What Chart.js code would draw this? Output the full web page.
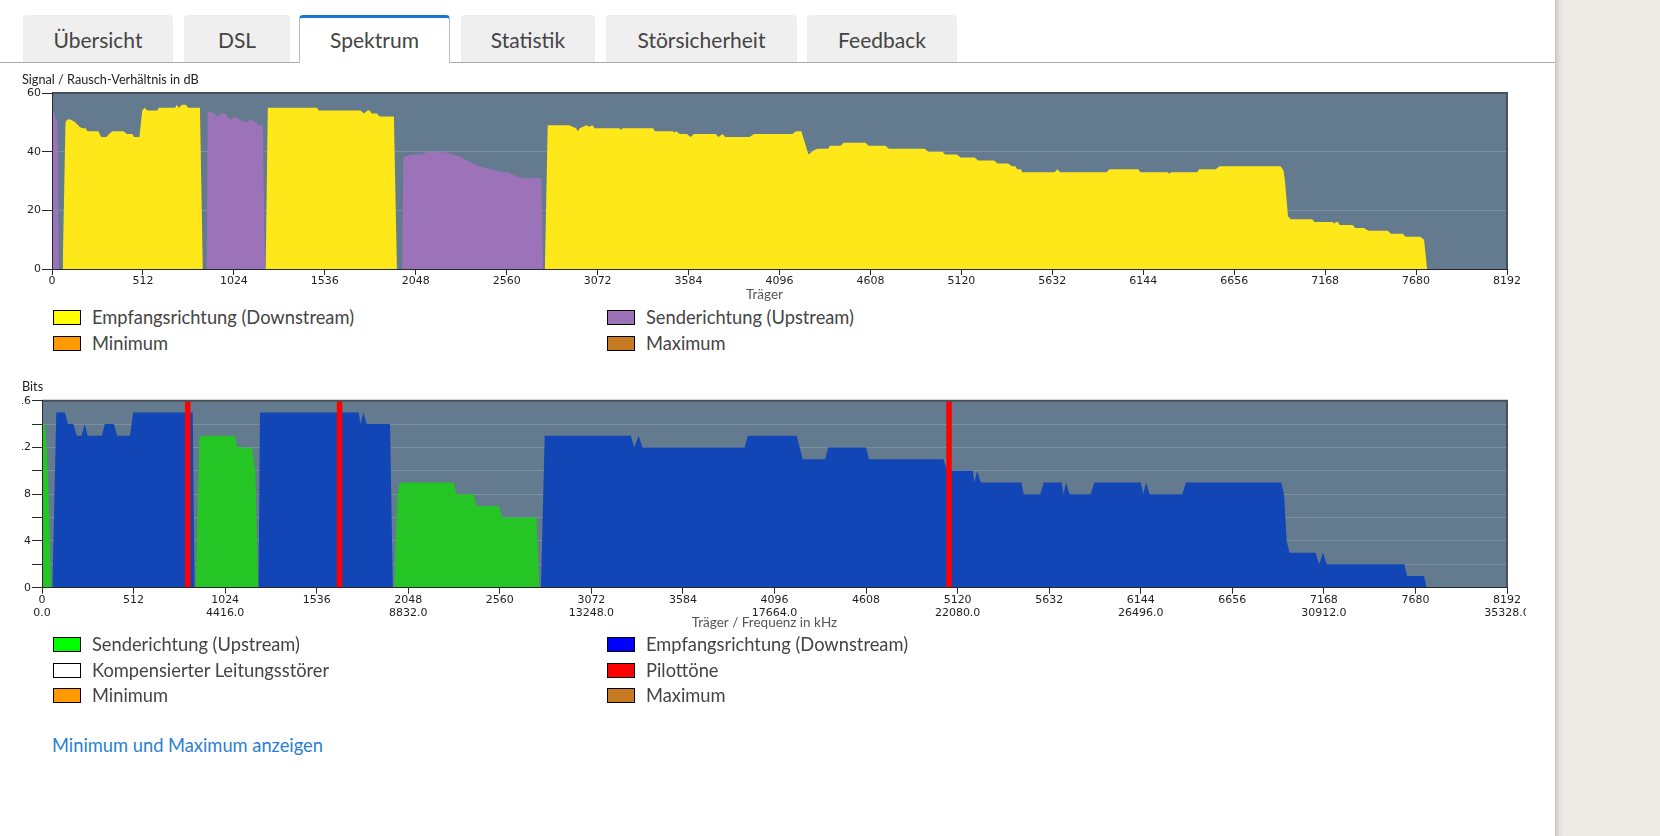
<!DOCTYPE html>
<html lang="de">
<head>
<meta charset="utf-8">
<title>Spektrum</title>
<script src="https://cdn.jsdelivr.net/npm/chart.js@4.4.1/dist/chart.umd.min.js"></script>
<style>
  html, body { margin: 0; padding: 0; }
  body { width: 1660px; height: 836px; position: relative; overflow: hidden; background: #fff;
         font-family: Lato, "Open Sans", sans-serif; color: #444; }
  .side { position: absolute; left: 1555px; top: 0; width: 105px; height: 836px;
          background: linear-gradient(to right, #c6c4be 0px, #e2dfda 4px, #eeebe6 8px); }
  .tabline { position: absolute; left: 0; top: 62px; width: 1555px; height: 1px; background: #aaa; }
  .tab { position: absolute; top: 15px; height: 47px; background: #efefef; border-radius: 4px 4px 0 0;
         font-size: 21px; line-height: 49px; text-align: center; color: #444; box-sizing: border-box; }
  .tab.active { background: #fff; height: 48px; border: 1px solid #bbb; border-top: 3px solid #1976d2;
                border-bottom: none; line-height: 44px; z-index: 2; }
  canvas { position: absolute; }
  .li { position: absolute; height: 26px; line-height: 26px; font-size: 18.3px; color: #444; white-space: nowrap; }
  .li span { position: absolute; left: 0; top: 6px; width: 28px; height: 15px; border: 1px solid #000; box-sizing: border-box; }
  .li b { position: absolute; left: 39px; top: 0; font-weight: normal; }
  .link { position: absolute; left: 52px; top: 732px; height: 26px; line-height: 26px; font-size: 18.3px; color: #2a7fd3; }
</style>
</head>
<body>
<div class="side"></div>
<div class="tabline"></div>
<div class="tab" style="left:23px;width:150px">Übersicht</div>
<div class="tab" style="left:184px;width:106px">DSL</div>
<div class="tab active" style="left:299px;width:151px">Spektrum</div>
<div class="tab" style="left:461px;width:134px">Statistik</div>
<div class="tab" style="left:606px;width:191px">Störsicherheit</div>
<div class="tab" style="left:807px;width:150px">Feedback</div>

<canvas id="snr" width="1504" height="234" style="left:22px;top:70px"></canvas>

<div class="li" style="left:53px;top:304px"><span style="background:#ffff00"></span><b>Empfangsrichtung (Downstream)</b></div>
<div class="li" style="left:607px;top:304px"><span style="background:#9b72b8"></span><b>Senderichtung (Upstream)</b></div>
<div class="li" style="left:53px;top:330px"><span style="background:#ff9900"></span><b>Minimum</b></div>
<div class="li" style="left:607px;top:330px"><span style="background:#c87a22"></span><b>Maximum</b></div>

<canvas id="bits" width="1504" height="256" style="left:22px;top:377px"></canvas>

<div class="li" style="left:53px;top:631px"><span style="background:#00ff00"></span><b>Senderichtung (Upstream)</b></div>
<div class="li" style="left:607px;top:631px"><span style="background:#0000ff"></span><b>Empfangsrichtung (Downstream)</b></div>
<div class="li" style="left:53px;top:657px"><span style="background:#ffffff"></span><b>Kompensierter Leitungsstörer</b></div>
<div class="li" style="left:607px;top:657px"><span style="background:#ff0000"></span><b>Pilottöne</b></div>
<div class="li" style="left:53px;top:682px"><span style="background:#ff9900"></span><b>Minimum</b></div>
<div class="li" style="left:607px;top:682px"><span style="background:#c87a22"></span><b>Maximum</b></div>

<div class="link">Minimum und Maximum anzeigen</div>

<script>
// Signal/Rausch-Verhältnis, Senderichtung (violett)
const snrUpCarrier = [0, 4, 30, 38,
  870, 877, 895, 914, 934, 954, 974, 1004, 1034, 1054, 1094, 1114, 1145, 1165, 1187, 1199,
  1972, 1978, 2000, 2028, 2088, 2108, 2199, 2210, 2220, 2248, 2290, 2308, 2339, 2369, 2409,
  2440, 2469, 2539, 2570, 2600, 2620, 2650, 2755, 2765];
const snrUpDb = [55, 55, 50, 0,
  0, 53.5, 53.5, 53, 52, 53, 53, 51, 52, 51, 50, 51, 50, 49, 49, 0,
  0, 38, 38.5, 39, 39, 40, 40, 39.5, 40, 39, 38.5, 38, 37, 36, 35,
  34.5, 34, 33, 33, 32, 31.5, 31, 31, 0];

// Signal/Rausch-Verhältnis, Empfangsrichtung (gelb)
const snrDownCarrier = [60, 76, 86, 105, 130, 155, 170, 190, 200, 261, 277, 307, 321, 341, 402,
  422, 452, 462, 492, 508, 522, 536, 592, 602, 693, 703, 713, 733, 753, 767, 833, 849,
  1203, 1215, 1492, 1500, 1737, 1757, 1777, 1790, 1799, 1829, 1845, 1925, 1942,
  2775, 2791, 2911, 2931, 2951, 2961, 2971, 2990, 3008, 3025, 3042, 3056, 3193, 3203, 3213,
  3384, 3394, 3495, 3505, 3515, 3535, 3575, 3595, 3615, 3736, 3752, 3776, 3790, 3927, 3953,
  4169, 4189, 4219, 4259, 4290, 4310, 4370, 4380, 4440, 4457, 4581, 4597, 4692, 4712, 4913,
  4934, 5014, 5028, 5095, 5115, 5195, 5213, 5304, 5324, 5384, 5404, 5424, 5434, 5454, 5464,
  5645, 5661, 5675, 5938, 5954, 6115, 6129, 6281, 6291, 6302, 6448, 6459, 6552, 6573, 6917,
  6934, 6942, 6959, 6975, 7094, 7109, 7209, 7219, 7229, 7240, 7250, 7323, 7338, 7386, 7413,
  7521, 7538, 7605, 7621, 7704, 7725, 7742];
const snrDownDb = [0, 50, 51, 51, 50, 48.5, 48, 48, 47, 47, 45, 45, 46, 47, 47,
  46, 46, 45, 45, 54, 55, 54, 54, 55, 55, 56, 55, 56, 56, 55, 55, 0,
  0, 55, 55, 54, 54, 53, 54, 54, 53, 53, 52, 52, 0,
  0, 49, 49, 48.5, 48, 47, 48, 48.5, 49, 48.5, 49, 48, 48, 47.5, 48,
  48, 47, 47, 46.5, 47, 46, 46, 45, 46, 46, 45, 46, 45, 45, 46,
  46, 47, 47, 39, 40.5, 41, 41, 42, 42, 43, 43, 42, 42, 41, 41,
  40, 40, 39, 39, 38, 38, 37, 37, 36, 36, 35, 35, 34, 34, 33,
  33, 34, 33, 33, 34, 34, 33, 33, 32.5, 33, 33, 34, 34, 35, 35,
  33.5, 30, 18, 17, 17, 16, 16, 15.5, 16, 16, 15, 15, 14, 14, 13,
  13, 12, 12, 11, 11, 10, 0];

// Bits pro Träger, Senderichtung (grün)
const bitsUpCarrier = [0, 16, 30, 52,
  860, 881, 1078, 1094, 1175, 1193, 1209,
  1970, 1988, 2002, 2303, 2317, 2414, 2430, 2554, 2574, 2765, 2781];
const bitsUp = [14, 14, 11, 0,
  0, 13, 13, 12, 12, 10, 0,
  0, 8, 9, 9, 8, 8, 7, 7, 6, 6, 0];

// Bits pro Träger, Empfangsrichtung (blau)
const bitsDownCarrier = [58, 80, 128, 145, 175, 195, 221, 239, 255, 335, 351, 402, 420, 492, 510, 843, 853,
  1211, 1219, 1771, 1781, 1797, 1815, 1946, 1962,
  2790, 2811, 3292, 3312, 3336, 3358, 3929, 3947, 4220, 4254, 4380, 4396, 4608, 4624, 5041,
  5061, 5205, 5214, 5229, 5249, 5476, 5490, 5582, 5602, 5702, 5712, 5726, 5746, 5864, 5885,
  6144, 6158, 6173, 6194, 6376, 6397, 6929, 6945, 6960, 6976, 7121, 7142, 7163, 7184, 7618,
  7633, 7728, 7743];
const bitsDown = [0, 15, 15, 14, 14, 13, 13, 14, 13, 13, 14, 14, 13, 13, 15, 15, 0,
  0, 15, 15, 14, 15, 14, 14, 0,
  0, 13, 13, 12, 13, 12, 12, 13, 13, 11, 11, 12, 12, 11, 11,
  10, 10, 9, 10, 9, 9, 8, 8, 9, 9, 8, 9, 8, 8, 9,
  9, 8, 9, 8, 8, 9, 9, 8, 4, 3, 3, 2, 3, 2, 2,
  1, 1, 0];

// Pilottöne (rot)
const pilotCarrier = [815, 1664, 5072];

const freqTicks = ['0.0', '', '4416.0', '', '8832.0', '', '13248.0', '', '17664.0', '',
  '22080.0', '', '26496.0', '', '30912.0', '', '35328.0'];
const snrMax = 60;
const bitsMax = 16;

Chart.defaults.font.family = "'DejaVu Sans', Verdana, sans-serif";
Chart.defaults.font.size = 11;
Chart.defaults.color = '#1e1e1e';
Chart.defaults.animation = false;

const PLOT_BG = '#637a8f';
const GRID = '#7b8fa2';
const AXIS = '#25292e';

const toPoints = (xs, ys) => xs.map((x, i) => ({ x: x, y: ys[i] }));

const plotFrame = {
  id: 'plotFrame',
  beforeDraw(chart) {
    const { ctx, chartArea: a } = chart;
    ctx.save();
    ctx.fillStyle = PLOT_BG;
    ctx.fillRect(a.left, a.top, a.right - a.left, a.bottom - a.top);
    ctx.restore();
  },
  afterDatasetsDraw(chart) {
    const { ctx, chartArea: a } = chart;
    ctx.save();
    ctx.strokeStyle = '#4a5057';
    ctx.lineWidth = 2;
    ctx.beginPath();
    ctx.moveTo(a.left, a.top);
    ctx.lineTo(a.right, a.top);
    ctx.lineTo(a.right, a.bottom);
    ctx.stroke();
    ctx.restore();
  }
};

const xAxis = (labelFn) => ({
  type: 'linear',
  min: 0,
  max: 8192,
  grid: { drawOnChartArea: false, drawTicks: true, tickLength: 6, tickColor: AXIS },
  border: { color: AXIS, width: 1, z: 1 },
  ticks: { stepSize: 512, maxTicksLimit: 20, autoSkip: false, maxRotation: 0, padding: 0, callback: labelFn },
  afterFit: (s) => { s.paddingLeft = 0; s.paddingRight = 0; }
});

const yAxis = (max, step, labelFn, width) => ({
  min: 0,
  max: max,
  grid: {
    color: (c) => (c.tick.value === 0 || c.tick.value === max) ? 'rgba(0,0,0,0)' : GRID,
    tickColor: AXIS,
    tickLength: 10
  },
  border: { color: AXIS, width: 1, z: 1 },
  ticks: { stepSize: step, padding: 1, callback: labelFn },
  afterFit: (s) => { s.width = width; }
});

const area = (label, xs, ys, color, order) => ({
  label: label,
  data: toPoints(xs, ys),
  backgroundColor: color,
  borderColor: 'rgba(0,0,0,0)',
  borderWidth: 0,
  pointRadius: 0,
  fill: 'origin',
  order: order
});

new Chart(document.getElementById('snr'), {
  type: 'line',
  data: {
    datasets: [
      area('Empfangsrichtung (Downstream)', snrDownCarrier, snrDownDb, '#ffe81a', 1),
      area('Senderichtung (Upstream)', snrUpCarrier, snrUpDb, '#9c73b9', 2)
    ]
  },
  options: {
    responsive: false,
    layout: { padding: { left: 0, right: 19, top: 0, bottom: 0 } },
    scales: {
      x: xAxis((v) => String(v)),
      y: yAxis(snrMax, 20, (v) => String(v), 30)
    },
    plugins: {
      legend: { display: false },
      tooltip: { enabled: false },
      title: {
        display: true, text: 'Signal / Rausch-Verhältnis in dB', align: 'start',
        font: { family: 'Lato', size: 12.7, weight: 'normal' }, color: '#222',
        padding: { top: 2.4, bottom: 5.36 }
      },
      subtitle: {
        display: true, position: 'bottom', text: 'Träger',
        font: { family: 'Lato', size: 13.5 }, color: '#555',
        padding: { top: -1.3, bottom: 0.9 }
      }
    }
  },
  plugins: [plotFrame]
});

new Chart(document.getElementById('bits'), {
  type: 'line',
  data: {
    datasets: [
      {
        label: 'Pilottöne',
        data: pilotCarrier.flatMap((c) => [{ x: c, y: 0 }, { x: c, y: bitsMax }, { x: c, y: null }]),
        borderColor: '#ff0000',
        borderWidth: 5.5,
        pointRadius: 0,
        fill: false,
        spanGaps: false,
        order: 0
      },
      area('Empfangsrichtung (Downstream)', bitsDownCarrier, bitsDown, '#1245b5', 1),
      area('Senderichtung (Upstream)', bitsUpCarrier, bitsUp, '#26c526', 2)
    ]
  },
  options: {
    responsive: false,
    layout: { padding: { left: 0, right: 19, top: 0, bottom: 0 } },
    scales: {
      x: xAxis((v, i) => [String(v), freqTicks[i] || '']),
      y: yAxis(bitsMax, 2, (v) => (v % 4 === 0 ? String(v) : ''), 20)
    },
    plugins: {
      legend: { display: false },
      tooltip: { enabled: false },
      title: {
        display: true, text: 'Bits', align: 'start',
        font: { family: 'Lato', size: 12.7, weight: 'normal' }, color: '#222',
        padding: { top: 2.4, bottom: 6.06 }
      },
      subtitle: {
        display: true, position: 'bottom', text: 'Träger / Frequenz in kHz',
        font: { family: 'Lato', size: 13.5 }, color: '#555',
        padding: { top: -5.5, bottom: 2.2 }
      }
    }
  },
  plugins: [plotFrame]
});
</script>
</body>
</html>
